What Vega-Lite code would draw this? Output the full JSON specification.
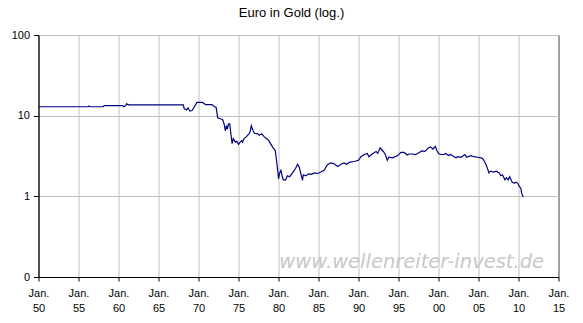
{
  "$schema": "https://vega.github.io/schema/vega-lite/v6.json",
  "width": 520,
  "height": 242,
  "autosize": {"type": "none"},
  "padding": {"left": 38.5, "top": 35, "right": 24.5, "bottom": 46},
  "background": "white",
  "title": {
    "text": "Euro in Gold (log.)",
    "font": "Liberation Sans",
    "fontSize": 13,
    "fontWeight": "normal",
    "color": "black",
    "baseline": "alphabetic",
    "offset": -1,
    "dx": -7,
    "anchor": "middle"
  },
  "encoding": {
    "x": {
      "type": "quantitative",
      "scale": {"domain": [1950, 2015], "nice": false, "zero": false},
      "axis": {
        "values": [1950, 1955, 1960, 1965, 1970, 1975, 1980, 1985, 1990, 1995, 2000, 2005, 2010, 2015],
        "labelExpr": "['Jan.', slice(toString(datum.value), 2)]",
        "title": null,
        "grid": true,
        "tickSize": 4,
        "labelPadding": 6,
        "labelLineHeight": 15,
        "labelBaseline": "top",
        "labelAngle": 0,
        "labelFlush": false,
        "labelOverlap": false,
        "labelColor": "#000000"
      }
    },
    "y": {
      "type": "quantitative",
      "scale": {"type": "log", "domain": [0.1, 100], "nice": false},
      "axis": {
        "values": [0.1, 1, 10, 100],
        "labelExpr": "datum.value < 0.5 ? '0' : toString(datum.value)",
        "title": null,
        "grid": true,
        "tickSize": 5,
        "labelPadding": 4,
        "labelColor": "#000000"
      }
    }
  },
  "layer": [
    {
      "data": {
        "values": [
          {"year": 1950.0, "value": 12.9},
          {"year": 1956.2, "value": 12.9},
          {"year": 1956.3, "value": 13.2},
          {"year": 1956.45, "value": 12.9},
          {"year": 1958.1, "value": 12.9},
          {"year": 1958.2, "value": 13.3},
          {"year": 1960.5, "value": 13.3},
          {"year": 1960.7, "value": 12.9},
          {"year": 1960.9, "value": 13.4},
          {"year": 1961.0, "value": 14.0},
          {"year": 1961.3, "value": 13.6},
          {"year": 1968.1, "value": 13.6},
          {"year": 1968.2, "value": 12.3},
          {"year": 1968.5, "value": 11.8},
          {"year": 1968.7, "value": 12.5},
          {"year": 1968.9, "value": 11.4},
          {"year": 1969.2, "value": 11.6},
          {"year": 1969.5, "value": 13.0},
          {"year": 1969.8, "value": 14.6},
          {"year": 1970.5, "value": 14.6},
          {"year": 1970.9, "value": 13.7},
          {"year": 1971.7, "value": 13.7},
          {"year": 1972.0, "value": 12.9},
          {"year": 1972.2, "value": 12.7},
          {"year": 1972.4, "value": 9.4},
          {"year": 1972.8, "value": 9.1},
          {"year": 1973.0, "value": 9.0},
          {"year": 1973.2, "value": 7.9},
          {"year": 1973.35, "value": 6.5},
          {"year": 1973.5, "value": 7.5},
          {"year": 1973.6, "value": 6.8},
          {"year": 1973.75, "value": 7.9},
          {"year": 1973.9, "value": 7.9},
          {"year": 1974.05, "value": 5.95},
          {"year": 1974.2, "value": 4.5},
          {"year": 1974.35, "value": 5.2},
          {"year": 1974.6, "value": 4.7},
          {"year": 1974.8, "value": 4.8},
          {"year": 1975.0, "value": 4.4},
          {"year": 1975.2, "value": 4.7},
          {"year": 1975.4, "value": 4.9},
          {"year": 1975.5, "value": 4.7},
          {"year": 1975.7, "value": 5.2},
          {"year": 1976.0, "value": 5.5},
          {"year": 1976.3, "value": 5.95},
          {"year": 1976.45, "value": 6.3},
          {"year": 1976.6, "value": 7.5},
          {"year": 1976.8, "value": 6.6},
          {"year": 1977.0, "value": 6.05},
          {"year": 1977.4, "value": 5.95},
          {"year": 1977.6, "value": 5.7},
          {"year": 1977.9, "value": 5.95},
          {"year": 1978.2, "value": 5.5},
          {"year": 1978.5, "value": 5.2},
          {"year": 1978.8, "value": 4.9},
          {"year": 1979.0, "value": 4.5},
          {"year": 1979.25, "value": 4.1},
          {"year": 1979.5, "value": 3.8},
          {"year": 1979.6, "value": 3.7},
          {"year": 1979.75, "value": 2.8},
          {"year": 1979.9, "value": 2.1},
          {"year": 1980.0, "value": 1.65},
          {"year": 1980.15, "value": 1.95},
          {"year": 1980.3, "value": 2.1},
          {"year": 1980.45, "value": 1.8},
          {"year": 1980.6, "value": 1.6},
          {"year": 1980.9, "value": 1.6},
          {"year": 1981.1, "value": 1.8},
          {"year": 1981.4, "value": 1.75},
          {"year": 1981.75, "value": 1.95},
          {"year": 1982.1, "value": 2.2},
          {"year": 1982.4, "value": 2.5},
          {"year": 1982.6, "value": 2.3},
          {"year": 1982.8, "value": 1.9},
          {"year": 1983.0, "value": 1.58},
          {"year": 1983.1, "value": 1.85},
          {"year": 1983.4, "value": 1.8},
          {"year": 1983.8, "value": 1.9},
          {"year": 1984.1, "value": 1.87},
          {"year": 1984.5, "value": 1.95},
          {"year": 1984.9, "value": 1.92},
          {"year": 1985.3, "value": 2.0},
          {"year": 1985.7, "value": 2.1},
          {"year": 1986.1, "value": 2.45},
          {"year": 1986.5, "value": 2.6},
          {"year": 1986.9, "value": 2.55},
          {"year": 1987.4, "value": 2.35},
          {"year": 1987.8, "value": 2.5},
          {"year": 1988.2, "value": 2.6},
          {"year": 1988.5, "value": 2.5},
          {"year": 1988.9, "value": 2.65},
          {"year": 1989.5, "value": 2.7},
          {"year": 1990.0, "value": 2.8},
          {"year": 1990.3, "value": 3.1},
          {"year": 1990.7, "value": 3.3},
          {"year": 1991.1, "value": 3.4},
          {"year": 1991.3, "value": 3.1},
          {"year": 1991.7, "value": 3.35},
          {"year": 1992.2, "value": 3.6},
          {"year": 1992.4, "value": 3.4},
          {"year": 1992.7, "value": 4.0},
          {"year": 1993.0, "value": 3.7},
          {"year": 1993.3, "value": 3.4},
          {"year": 1993.6, "value": 2.8},
          {"year": 1993.8, "value": 3.05},
          {"year": 1994.25, "value": 3.0},
          {"year": 1994.9, "value": 3.2},
          {"year": 1995.3, "value": 3.5},
          {"year": 1995.7, "value": 3.5},
          {"year": 1996.1, "value": 3.25},
          {"year": 1996.3, "value": 3.35},
          {"year": 1996.7, "value": 3.35},
          {"year": 1997.1, "value": 3.3},
          {"year": 1997.4, "value": 3.4},
          {"year": 1997.6, "value": 3.5},
          {"year": 1997.9, "value": 3.65},
          {"year": 1998.3, "value": 3.6},
          {"year": 1998.75, "value": 4.0},
          {"year": 1999.0, "value": 4.1},
          {"year": 1999.3, "value": 3.85},
          {"year": 1999.6, "value": 4.15},
          {"year": 1999.8, "value": 3.7},
          {"year": 2000.0, "value": 3.4},
          {"year": 2000.3, "value": 3.3},
          {"year": 2000.7, "value": 3.3},
          {"year": 2000.9, "value": 3.4},
          {"year": 2001.25, "value": 3.2},
          {"year": 2001.5, "value": 3.3},
          {"year": 2001.95, "value": 3.1},
          {"year": 2002.2, "value": 3.0},
          {"year": 2002.4, "value": 3.1},
          {"year": 2002.8, "value": 3.05},
          {"year": 2003.3, "value": 3.3},
          {"year": 2003.5, "value": 3.05},
          {"year": 2004.05, "value": 3.2},
          {"year": 2004.4, "value": 3.1},
          {"year": 2004.9, "value": 3.05},
          {"year": 2005.3, "value": 3.0},
          {"year": 2005.5, "value": 2.95},
          {"year": 2005.8, "value": 2.65},
          {"year": 2006.0, "value": 2.4},
          {"year": 2006.2, "value": 2.1},
          {"year": 2006.3, "value": 1.95},
          {"year": 2006.5, "value": 2.05},
          {"year": 2006.9, "value": 2.0},
          {"year": 2007.2, "value": 2.05},
          {"year": 2007.6, "value": 1.95},
          {"year": 2007.8, "value": 1.8},
          {"year": 2008.0, "value": 1.85},
          {"year": 2008.3, "value": 1.6},
          {"year": 2008.5, "value": 1.7},
          {"year": 2008.7, "value": 1.6},
          {"year": 2008.9, "value": 1.75},
          {"year": 2009.2, "value": 1.5},
          {"year": 2009.5, "value": 1.45},
          {"year": 2009.7, "value": 1.5},
          {"year": 2009.9, "value": 1.45},
          {"year": 2010.1, "value": 1.33},
          {"year": 2010.3, "value": 1.25},
          {"year": 2010.4, "value": 1.08},
          {"year": 2010.6, "value": 0.98}
        ]
      },
      "mark": {"type": "line", "color": "#000080", "strokeWidth": 1.2, "interpolate": "linear"},
      "encoding": {
        "x": {"field": "year"},
        "y": {"field": "value"}
      }
    },
    {
      "data": {"values": [{"label": "www.wellenreiter-invest.de"}]},
      "mark": {
        "type": "text",
        "font": "DejaVu Sans",
        "fontStyle": "italic",
        "fontSize": 19.5,
        "color": "#c8c8c8",
        "align": "center",
        "baseline": "alphabetic",
        "clip": false
      },
      "encoding": {
        "x": {"datum": 1996.65},
        "y": {"datum": 0.129},
        "text": {"field": "label", "type": "nominal"}
      }
    }
  ],
  "config": {
    "view": {"stroke": "black", "strokeWidth": 1},
    "axis": {
      "gridColor": "#c0c0c0",
      "gridWidth": 1,
      "domainColor": "black",
      "tickColor": "black",
      "labelColor": "black",
      "labelFont": "Liberation Sans",
      "labelFontSize": 11
    }
  }
}
